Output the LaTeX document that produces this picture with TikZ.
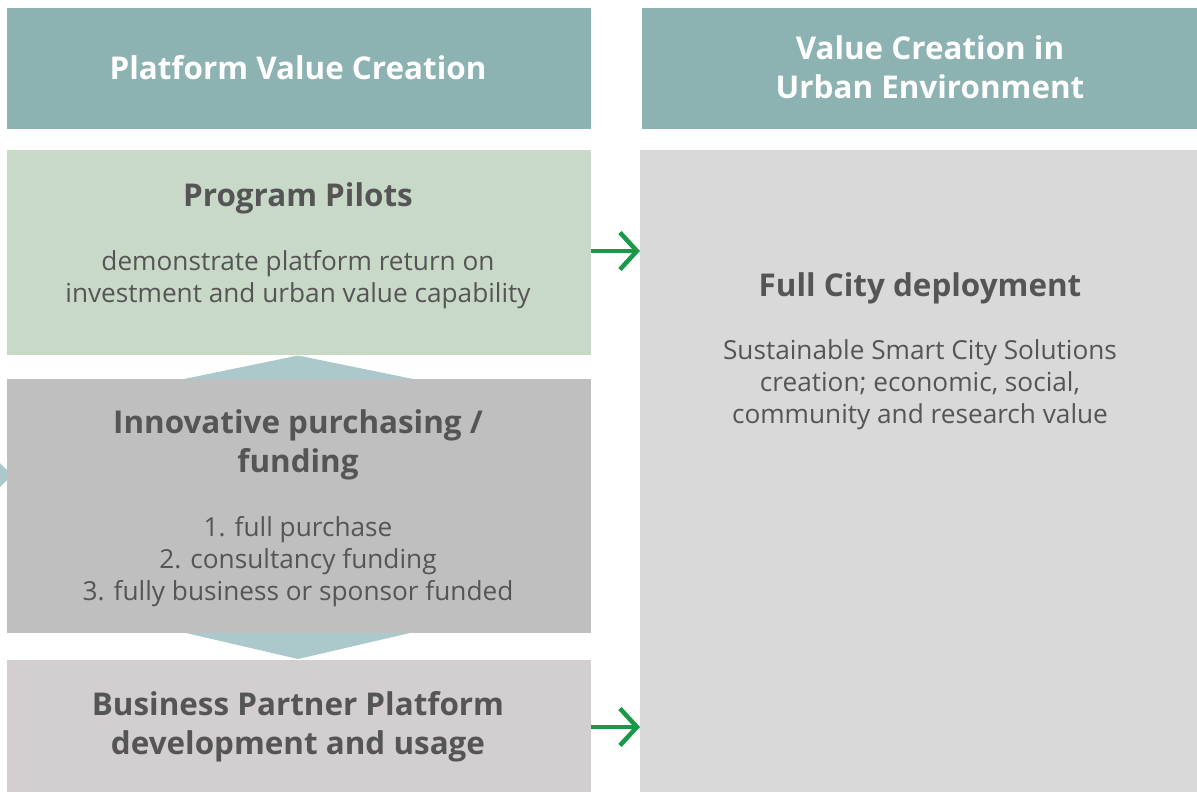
\documentclass[tikz,border=0pt]{standalone}
\usepackage{fontspec}
\setmainfont{Open Sans}
\usetikzlibrary{arrows.meta}
\definecolor{headc}{HTML}{8CB3B1}
\definecolor{pilotc}{HTML}{C9D9C8}
\definecolor{innoc}{HTML}{BFBFBF}
\definecolor{bpc}{HTML}{D3CFD0}
\definecolor{cityc}{HTML}{D9D9D9}
\definecolor{tric}{HTML}{ABC9CA}
\definecolor{txtc}{HTML}{555555}
\definecolor{arrc}{HTML}{1A9A48}
\tikzset{
  panel/.style={anchor=north west, inner sep=0pt, outer sep=0pt},
  headtxt/.style={text=white, font=\bfseries\fontsize{31.4}{39}\selectfont, align=center, inner sep=0pt},
  titletxt/.style={text=txtc, font=\bfseries\fontsize{31.4}{39}\selectfont, align=center, inner sep=0pt},
  bodytxt/.style={text=txtc, font=\fontsize{26.2}{32}\selectfont, align=center, inner sep=0pt},
  flow/.style={draw=arrc, line width=4.5pt, -{Straight Barb[length=17pt,width=37pt,line width=4.5pt]}}
}
\begin{document}
\begin{tikzpicture}[x=1pt,y=-1pt]
\useasboundingbox (0,0) rectangle (1197,792);
% left pointer partially hidden
\fill[tric] (0,463) -- (12,475) -- (0,487) -- cycle;
% panels
\node[panel, fill=headc, minimum width=584pt, minimum height=121pt] (h1) at (7,8) {};
\node[panel, fill=headc, minimum width=555pt, minimum height=121pt] (h2) at (642,8) {};
\node[panel, fill=pilotc, minimum width=584pt, minimum height=205pt] (pilot) at (7,150) {};
\node[panel, fill=innoc, minimum width=584pt, minimum height=254pt] (inno) at (7,379) {};
\node[panel, fill=bpc, minimum width=584pt, minimum height=132pt] (bp) at (7,660) {};
\node[panel, fill=cityc, minimum width=557pt, minimum height=642pt] (city) at (640,150) {};
% connecting triangles
\fill[tric] (184,379) -- (298,355.5) -- (413,379) -- cycle;
\fill[tric] (186,633) -- (298,659) -- (410,633) -- cycle;
% texts
\node[headtxt] (t1) at (298,67.5) {Platform Value Creation};
\node[headtxt] (t2) at (930,67) {Value Creation in\\Urban Environment};
\node[titletxt] (t3) at (298,198) {Program Pilots};
\node[bodytxt] (t4) at (298,280) {demonstrate platform return on\\investment and urban value capability};
\node[titletxt] (t5) at (298,444.5) {Innovative purchasing /\\funding};
\node[bodytxt] (t6) at (298,562) {1. full purchase\\2. consultancy funding\\3. fully business or sponsor funded};
\node[titletxt] (t7) at (298,726.5) {Business Partner Platform\\development and usage};
\node[titletxt] (t8) at (920,288) {Full City deployment};
\node[bodytxt] (t9) at (920,385) {Sustainable Smart City Solutions\\creation; economic, social,\\community and research value};
% arrows
\draw[flow] (pilot.east |- 0,251) -- (city.west |- 0,251);
\draw[flow] (bp.east |- 0,727) -- (city.west |- 0,727);
\end{tikzpicture}
\end{document}
